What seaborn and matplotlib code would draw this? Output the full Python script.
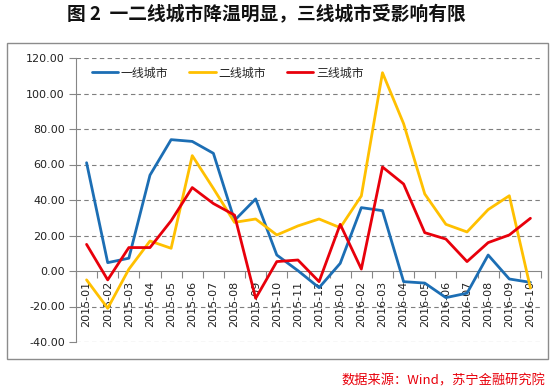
import numpy as np
import pandas as pd
import matplotlib
matplotlib.use("Agg")
import matplotlib.pyplot as plt
from matplotlib.patches import Rectangle
import seaborn as sns

months = ["2015-01", "2015-02", "2015-03", "2015-04", "2015-05", "2015-06",
          "2015-07", "2015-08", "2015-09", "2015-10", "2015-11", "2015-12",
          "2016-01", "2016-02", "2016-03", "2016-04", "2016-05", "2016-06",
          "2016-07", "2016-08", "2016-09", "2016-10"]
tier1 = [61.0, 4.7, 7.2, 54.0, 74.0, 73.0, 66.3, 28.5, 40.6, 9.0, 0.2, -9.4,
         4.3, 35.7, 34.0, -6.0, -6.8, -15.0, -12.5, 9.0, -4.5, -6.4]
tier2 = [-5.0, -21.0, 1.0, 16.9, 12.8, 65.0, 46.5, 27.4, 29.3, 20.3, 25.4, 29.3,
         24.4, 42.3, 111.7, 83.0, 43.4, 26.3, 22.0, 34.6, 42.4, -9.6]
tier3 = [15.0, -5.0, 13.2, 13.2, 28.3, 47.0, 38.0, 31.5, -15.4, 5.3, 6.2, -6.0,
         26.3, 1.1, 58.6, 49.0, 21.6, 18.0, 5.3, 16.0, 20.3, 29.7]
series_names = ["一线城市", "二线城市", "三线城市"]
colors = ["#1C6EB4", "#FFC000", "#E8000B"]
yticks = [-40, -20, 0, 20, 40, 60, 80, 100, 120]
title = "图 2  一二线城市降温明显，三线城市受影响有限"
source = "数据来源：Wind，苏宁金融研究院"

sns.set_theme(style="white")
plt.rcParams["font.family"] = ["Noto Sans CJK SC", "DejaVu Sans"]

rows = []
for name, vals in zip(series_names, [tier1, tier2, tier3]):
    for i, v in enumerate(vals):
        rows.append({"idx": i, "value": v, "series": name})
df = pd.DataFrame(rows)

W, H = 554, 392
fig = plt.figure(figsize=(W / 100, H / 100), dpi=100)
fig.patch.set_facecolor("white")

# outer frame
fig.patches.append(Rectangle((7 / W, 1 - 359 / H), (548 - 7) / W, (359 - 43) / H,
                             transform=fig.transFigure, fill=False,
                             edgecolor="#8C8C8C", linewidth=1.0, zorder=0))

left, right, top, bottom = 76, 541, 58, 342
ax = fig.add_axes([left / W, 1 - bottom / H, (right - left) / W, (bottom - top) / H])
ax.set_facecolor("none")

sns.lineplot(data=df, x="idx", y="value", hue="series", hue_order=series_names,
             palette=colors, linewidth=2.0, ax=ax, legend=False, sort=False,
             zorder=3)

for s in ["top", "right"]:
    ax.spines[s].set_visible(False)
ax.spines["left"].set_color("#868686")
ax.spines["left"].set_linewidth(0.8)
ax.spines["bottom"].set_position(("data", 0))
ax.spines["bottom"].set_color("#868686")
ax.spines["bottom"].set_linewidth(0.8)

ax.set_xlim(-0.5, len(months) - 0.5)
ax.set_ylim(-40, 120)
ax.set_yticks(yticks)
ax.set_yticklabels([f"{t:.2f}" for t in yticks], fontsize=8,
                   family="DejaVu Sans", color="#222222")
ax.set_xticks(range(len(months)))
ax.set_xticklabels(months, rotation=90, fontsize=8, family="DejaVu Sans",
                   color="#222222")
ax.set_xticks(np.arange(-0.5, len(months), 1.0), minor=True)
ax.tick_params(axis="x", which="major", length=0, pad=7, labelrotation=90)
ax.tick_params(axis="x", which="minor", length=5, color="#868686", direction="out",
               width=0.8, bottom=True)
ax.tick_params(axis="y", which="major", length=5, color="#868686", direction="out",
               width=0.8, pad=3, left=True)
ax.set_xlabel("")
ax.set_ylabel("")

for t in yticks:
    if t != 0:
        ax.axhline(t, color="#7F7F7F", linewidth=0.8, linestyle=(0, (4, 3)), zorder=1)

handles = [plt.Line2D([], [], color=c, linewidth=2.0) for c in colors]
ax.legend(handles, series_names, loc="center left", bbox_to_anchor=(0.034, 0.947),
          ncol=3, frameon=False, fontsize=8.6, handlelength=2.2,
          handletextpad=0.2, columnspacing=1.8, borderpad=0, borderaxespad=0)

fig.text(266 / W, 1 - 15 / H, title, ha="center", va="center", fontsize=13.5,
         fontweight="heavy", color="#111111")
fig.text(545 / W, 1 - 381 / H, source, ha="right", va="center", fontsize=9.5,
         style="italic", color="#E8000B")

fig.savefig("out.png", dpi=100)
